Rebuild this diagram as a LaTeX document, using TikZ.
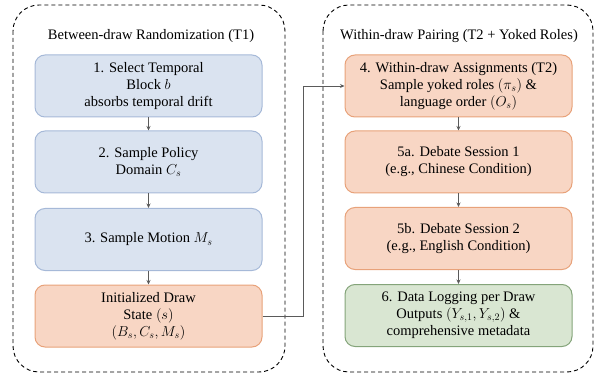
\documentclass[tikz,border=0pt]{standalone}
\usepackage{fontspec}
\setmainfont{Liberation Serif}
\usetikzlibrary{arrows.meta}
\definecolor{bluefill}{HTML}{DAE3F0}
\definecolor{blueline}{HTML}{A6B9D8}
\definecolor{orangefill}{HTML}{F8D6C4}
\definecolor{orangeline}{HTML}{E8A27A}
\definecolor{greenfill}{HTML}{D9E6D2}
\definecolor{greenline}{HTML}{84A47A}
\definecolor{linkgray}{HTML}{5A5A5A}
\tikzset{
  container/.style={draw=black, line width=0.9pt, dash pattern=on 4pt off 3pt, rounded corners=26pt},
  stepbox/.style={rounded corners=10pt, line width=1pt, minimum width=227pt, minimum height=62pt,
    align=center, font=\fontsize{14.5}{17}\selectfont, inner sep=2pt},
  bluebox/.style={stepbox, fill=bluefill, draw=blueline},
  orangebox/.style={stepbox, fill=orangefill, draw=orangeline},
  greenbox/.style={stepbox, fill=greenfill, draw=greenline},
  title/.style={font=\fontsize{14.5}{17}\selectfont},
  link/.style={draw=linkgray, line width=0.8pt, -{Stealth[length=4.5pt,width=4pt]}}
}
\begin{document}
\begin{tikzpicture}[x=1pt, y=-1pt]
\useasboundingbox (0,0) rectangle (595,377);
% the two dashed group frames
\draw[container] (13,5) rectangle (285,372);
\draw[container] (323,5) rectangle (593,372);
\node[title] (t1) at (151,36) {Between-draw Randomization (T1)};
\node[title] (t2) at (459,36) {Within-draw Pairing (T2 + Yoked Roles)};
% left column
\node[bluebox] (s1) at (148.5,86) {1. Select Temporal\\Block $b$\\absorbs temporal drift};
\node[bluebox] (s2) at (148.5,162) {2. Sample Policy\\Domain $C_s$};
\node[bluebox] (s3) at (148.5,239.5) {3. Sample Motion $M_s$};
\node[orangebox] (init) at (148.5,316) {Initialized Draw\\State $(s)$\\$(B_s, C_s, M_s)$};
% right column
\node[orangebox] (s4) at (458.5,86) {4. Within-draw Assignments (T2)\\Sample yoked roles $(\pi_s)$ \&\\language order $(O_s)$};
\node[orangebox] (s5a) at (458.5,162) {5a. Debate Session 1\\(e.g., Chinese Condition)};
\node[orangebox] (s5b) at (458.5,238.5) {5b. Debate Session 2\\(e.g., English Condition)};
\node[greenbox] (s6) at (458.5,315.5) {6. Data Logging per Draw\\Outputs $(Y_{s,1}, Y_{s,2})$ \&\\comprehensive metadata};
% connectors
\draw[link] (s1) -- (s2);
\draw[link] (s2) -- (s3);
\draw[link] (s3) -- (init);
\draw[link] (init.east) -- (303,316) |- (s4.west);
\draw[link] (s4) -- (s5a);
\draw[link] (s5a) -- (s5b);
\draw[link] (s5b) -- (s6);
\end{tikzpicture}
\end{document}
